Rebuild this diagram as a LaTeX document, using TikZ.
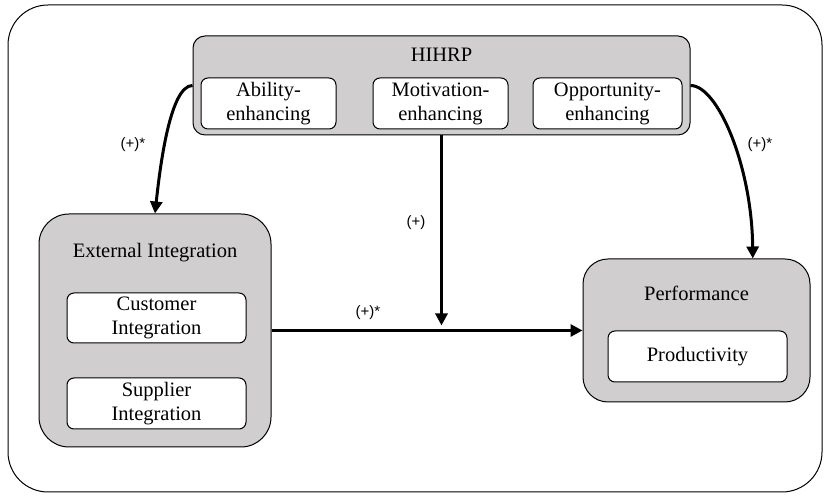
\documentclass[tikz,border=0pt]{standalone}
\usepackage{fontspec}
\setmainfont{Liberation Serif}
\newfontfamily\labelfont{Liberation Sans}
\usetikzlibrary{arrows.meta,positioning}

\definecolor{boxgray}{RGB}{208,206,206}

\tikzset{
  group/.style={draw,line width=1pt,fill=boxgray,rounded corners=#1},
  item/.style={draw,line width=1pt,fill=white,rounded corners=7pt,align=center,
    inner sep=0pt,font=\fontsize{20.5}{24}\selectfont},
  title/.style={font=\fontsize{20.5}{24}\selectfont},
  effect/.style={line width=3pt,-{Triangle[length=12pt,width=12pt]}},
  sign/.style={font=\labelfont\fontsize{15}{17}\selectfont},
}

\begin{document}
\begin{tikzpicture}[x=1pt,y=1pt]
 \useasboundingbox (0,0) rectangle (832,497);
 \draw[line width=1pt,rounded corners=40pt] (8,5) rectangle (822,492);

 % practices bundle
 \node[group=12pt,minimum width=497pt,minimum height=99pt] (hihrp) at (441.5,411.5) {};
 \node[title] (hihrpT) at (441.5,442) {HIHRP};
 \node[item,minimum width=135pt,minimum height=51pt] (abil) at (268.5,393.5) {Ability-\\enhancing};
 \node[item,minimum width=135pt,minimum height=51pt] (moti) at (440.5,393.5) {Motivation-\\enhancing};
 \node[item,minimum width=149pt,minimum height=51pt] (oppo) at (607.5,393.5) {Opportunity-\\enhancing};

 % integration
 \node[group=30pt,minimum width=232pt,minimum height=233pt] (ext) at (155,166.5) {};
 \node[title] (extT) at (155,244) {External Integration};
 \node[item,minimum width=179pt,minimum height=50pt] (cust) at (156.5,179) {Customer\\Integration};
 \node[item,minimum width=179pt,minimum height=51pt] (supp) at (156.5,93.5) {Supplier\\Integration};

 % outcome
 \node[group=25pt,minimum width=227pt,minimum height=143pt] (perf) at (696.5,166.5) {};
 \node[title] (perfT) at (696.5,204) {Performance};
 \node[item,minimum width=179pt,minimum height=51pt] (prod) at (697.5,140.5) {Productivity};

 % paths
 \coordinate (meet) at (hihrp.south |- ext.east);
 \draw[effect] (hihrp.west) .. controls (170,411.5) and (160,330) .. (ext.north);
 \draw[effect] (hihrp.east) .. controls (718,411.5) and (752,330) .. (perf.52);
 \draw[effect] (ext.east) -- (perf.west);
 \draw[effect] (hihrp.south) -- ([yshift=5pt]meet);

 \node[sign] (sA) at (133,352) {(+)*};
 \node[sign] (sO) at (760,352) {(+)*};
 \node[sign] (sM) at (416,274) {(+)};
 \node[sign] (sE) at (368,184) {(+)*};
\end{tikzpicture}
\end{document}
